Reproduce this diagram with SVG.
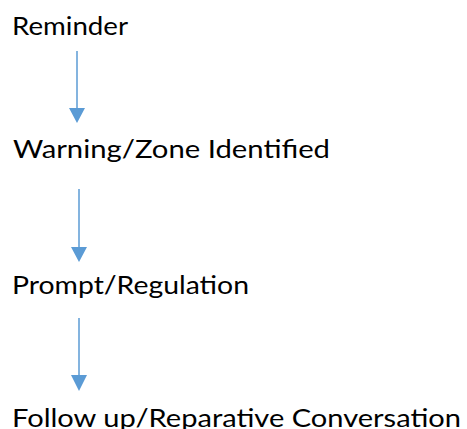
<svg xmlns="http://www.w3.org/2000/svg" width="467" height="429" viewBox="0 0 467 429">
<style>
.t{font-family:"Lato","Noto Sans","Liberation Sans",sans-serif;font-size:25px;fill:#000}
.c line{stroke:#5B9BD5;stroke-width:1.5}
.c polygon{fill:#5B9BD5}
</style>
<rect width="467" height="429" fill="#fff"/>
<g id="n1"><text class="t" x="12" y="35" textLength="116" lengthAdjust="spacingAndGlyphs">Reminder</text></g>
<g id="n2"><text class="t" x="13" y="158" textLength="317" lengthAdjust="spacingAndGlyphs">Warning/Zone Identified</text></g>
<g id="n3"><text class="t" x="12" y="294" textLength="237" lengthAdjust="spacingAndGlyphs">Prompt/Regulation</text></g>
<g id="n4"><text class="t" x="12" y="427" textLength="449" lengthAdjust="spacingAndGlyphs">Follow up/Reparative Conversation</text></g>
<g class="c" id="connectors">
<line x1="77" y1="51" x2="77" y2="109"/><polygon points="69,108 85,108 77,123"/>
<line x1="79" y1="189" x2="79" y2="248"/><polygon points="71,247 87,247 79,262"/>
<line x1="79" y1="318" x2="79" y2="376"/><polygon points="71,375 87,375 79,391"/>
</g>
</svg>
